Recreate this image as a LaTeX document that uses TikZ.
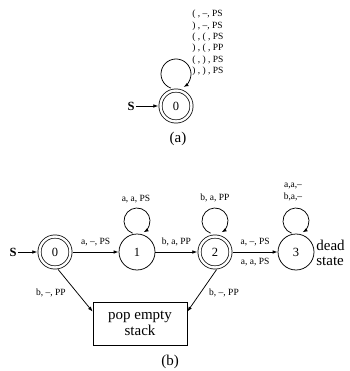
\documentclass[tikz,border=0pt]{standalone}
\usepackage{fontspec}
\setmainfont{Liberation Serif}
\usetikzlibrary{arrows.meta,calc}
\begin{document}
\begin{tikzpicture}[x=1pt,y=1pt,
  line width=0.75pt,
  arr/.style={-{Latex[length=5pt,width=3.6pt]}},
  st/.style={circle,draw,minimum size=36pt,inner sep=0pt,font=\fontsize{12.5}{12.5}\selectfont},
  acc/.style={circle,draw,double,double distance=2.4pt,minimum size=31pt,inner sep=0pt,outer sep=2.2pt,font=\fontsize{12.5}{12.5}\selectfont},
  lab/.style={font=\fontsize{9.5}{11.3}\selectfont,inner sep=0pt},
  big/.style={font=\fontsize{15}{15}\selectfont,inner sep=0pt},
  startlab/.style={font=\fontsize{12.5}{12.5}\selectfont\bfseries,inner sep=1pt},
  boxst/.style={draw,align=center,minimum width=94pt,minimum height=43pt,inner sep=2pt,font=\fontsize{15}{16}\selectfont},
]
\useasboundingbox (0,0) rectangle (349,-371);

% ---------- (a) ----------
\node[acc] (a0) at (176,-106) {0};
\node[startlab] (aS) at (131,-106) {S};
\draw[arr] (aS) -- (a0);
\coordinate (aL) at ($(a0)+(0,32)$);
\draw[arr] ($(aL)+(250:15)$) arc[start angle=250,end angle=-60,radius=15];
\node[lab,anchor=north west,align=left] (aT) at (192,-10)
  {( , --, PS\\) , --, PS\\( , ( , PS\\) , ( , PP\\( , ) , PS\\) , ) , PS};
\node[big] (acap) at (178,-139) {(a)};

% ---------- (b) ----------
\node[startlab] (bS) at (13,-252) {S};
\node[acc] (b0) at (55,-252) {0};
\node[st] (b1) at (137,-252) {1};
\node[acc] (b2) at (215,-252) {2};
\node[st] (b3) at (296,-252) {3};

\draw[arr] (bS) -- (b0);
\draw[arr] (b0) -- node[lab,above=5.5pt,midway] (l01) {a, --, PS} (b1);
\draw[arr] (b1) -- node[lab,above=5.5pt,midway] (l12) {b, a, PP} (b2);
\draw[arr] (b2) -- node[lab,above=5.5pt,midway] (l23a) {a, --, PS}
                  node[lab,below=5.5pt,midway] (l23b) {a, a, PS} (b3);

\coordinate (L1) at ($(b1)+(0,31)$);
\coordinate (L2) at ($(b2)+(0,31)$);
\coordinate (L3) at ($(b3)+(0,31)$);
\draw[arr] ($(L1)+(250:13)$) arc[start angle=250,end angle=-60,radius=13];
\draw[arr] ($(L2)+(250:13)$) arc[start angle=250,end angle=-60,radius=13];
\draw[arr] ($(L3)+(250:13)$) arc[start angle=250,end angle=-60,radius=13];
\node[lab] (ll1) at (136,-199) {a, a, PS};
\node[lab] (ll2) at (215,-198) {b, a, PP};
\node[lab,align=center,font=\fontsize{9.5}{12}\selectfont] (ll3) at (293,-192) {a,a,--\\b,a,--};

\node[big,align=left,anchor=west] (dead) at (316,-253) {dead\\state};

\node[boxst] (box) at (140,-323.5) {pop empty\\stack};
\draw[arr] (b0.-80) -- ([yshift=-10pt]box.north west);
\draw[arr] (b2.-85) -- ([yshift=-10pt]box.north east);
\node[lab] (lb0) at (51,-293) {b, --, PP};
\node[lab] (lb2) at (224,-293) {b, --, PP};

\node[big] (bcap) at (170,-362) {(b)};
\end{tikzpicture}
\end{document}
